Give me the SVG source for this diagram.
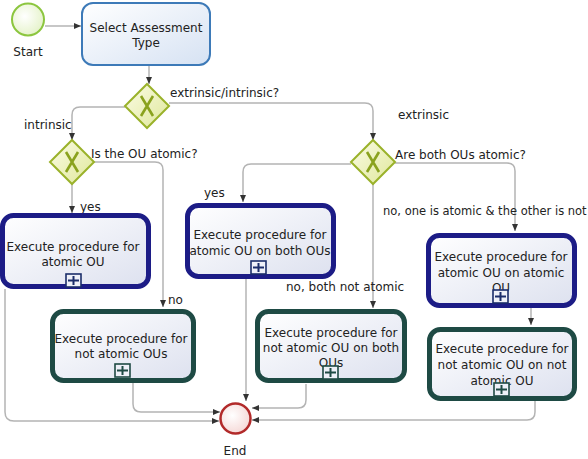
<svg xmlns="http://www.w3.org/2000/svg" width="588" height="459" viewBox="0 0 588 459">
<defs>
<linearGradient id="gTask" x1="0" y1="0" x2="1" y2="1"><stop offset="0" stop-color="#ffffff"/><stop offset="1" stop-color="#dde1ef"/></linearGradient>
<linearGradient id="gSel" x1="0" y1="0" x2="1" y2="1"><stop offset="0" stop-color="#ffffff"/><stop offset="1" stop-color="#d6e2f3"/></linearGradient>
<linearGradient id="gGw" x1="0" y1="0" x2="1" y2="1"><stop offset="0" stop-color="#fbfce6"/><stop offset="1" stop-color="#dfe79a"/></linearGradient>
<radialGradient id="gStart" cx="0.4" cy="0.4" r="0.7"><stop offset="0" stop-color="#ffffff"/><stop offset="1" stop-color="#e2f1c4"/></radialGradient>
<radialGradient id="gEnd" cx="0.4" cy="0.4" r="0.7"><stop offset="0" stop-color="#ffffff"/><stop offset="1" stop-color="#f4d4d2"/></radialGradient>
<marker id="arr" markerUnits="userSpaceOnUse" markerWidth="8" markerHeight="8" viewBox="0 0 8 8" refX="7" refY="4" orient="auto"><path d="M0,1 L7,4 L0,7 Z" fill="#333"/></marker>
<g id="plus"><rect x="0" y="0" width="15" height="13" fill="#eef0f8" stroke="#1b2d6a" stroke-width="1.6"/><path d="M7.5,2 V11 M2,6.5 H13" stroke="#1b2d6a" stroke-width="2"/></g>
<g id="plusT"><rect x="0" y="0" width="15" height="13" fill="#eef0f8" stroke="#1e4a44" stroke-width="1.6"/><path d="M7.5,2 V11 M2,6.5 H13" stroke="#1e4a44" stroke-width="2"/></g>
</defs>
<style>
text{font-family:"DejaVu Sans","Liberation Sans",sans-serif;font-size:12px;fill:#222}
.c{text-anchor:middle}
.sm{font-size:11.5px}
.con{fill:none;stroke:#b4b4b4;stroke-width:1.5}
.blue{fill:url(#gTask);stroke:#1c1c86;stroke-width:5}
.teal{fill:url(#gTask);stroke:#1e4a44;stroke-width:5}
.gw{fill:url(#gGw);stroke:#9ab22a;stroke-width:2}
.gx{stroke:#8aa21e;stroke-width:2.6;fill:none}
</style>

<g id="connectors">
<path class="con" marker-end="url(#arr)" d="M45,26 H81"/>
<path class="con" marker-end="url(#arr)" d="M149,65 V84"/>
<path class="con" marker-end="url(#arr)" d="M169,103 H365 Q373,103 373,111 V140"/>
<path class="con" marker-end="url(#arr)" d="M125,107 H80 Q72,107 72,115 V140"/>
<path class="con" marker-end="url(#arr)" d="M72,184 V213"/>
<path class="con" marker-end="url(#arr)" d="M94,162 H155 Q163,162 163,170 V307"/>
<path class="con" marker-end="url(#arr)" d="M351,164 H251 Q243,164 243,172 V202"/>
<path class="con" marker-end="url(#arr)" d="M373,184 V308"/>
<path class="con" marker-end="url(#arr)" d="M395,163 H507 Q515,163 515,171 V231"/>
<path class="con" marker-end="url(#arr)" d="M531,306 V325"/>
<path class="con" marker-end="url(#arr)" d="M5,289 V412 Q5,421 14,421 H219"/>
<path class="con" marker-end="url(#arr)" d="M133,382 V404 Q133,412 141,412 H220"/>
<path class="con" marker-end="url(#arr)" d="M246,279 V401"/>
<path class="con" marker-end="url(#arr)" d="M306,384 V400 Q306,408 298,408 H252"/>
<path class="con" marker-end="url(#arr)" d="M535,401 V412 Q535,420 527,420 H252"/>
</g>

<g id="start">
<circle cx="28" cy="19.5" r="16" fill="url(#gStart)" stroke="#8cc63f" stroke-width="2"/>
<text class="c" x="28" y="56">Start</text>
</g>

<g id="selectType">
<rect x="82" y="3" width="128" height="62" rx="11" fill="url(#gSel)" stroke="#3d7ab8" stroke-width="2"/>
<text class="c" x="146" y="32">Select Assessment</text>
<text class="c" x="146" y="47">Type</text>
</g>

<g id="gw1">
<path class="gw" d="M147,84 L169,106 L147,128 L125,106 Z"/>
<path class="gx" d="M141,96 L153,116 M153,96 L141,116"/>
<text x="170" y="97">extrinsic/intrinsic?</text>
</g>

<g id="gw3">
<path class="gw" d="M72,140 L94,162 L72,184 L50,162 Z"/>
<path class="gx" d="M66,152 L78,172 M78,152 L66,172"/>
<text x="91" y="158">Is the OU atomic?</text>
</g>

<g id="gw2">
<path class="gw" d="M373,140 L395,162 L373,184 L351,162 Z"/>
<path class="gx" d="M367,152 L379,172 M379,152 L367,172"/>
<text x="395" y="159">Are both OUs atomic?</text>
</g>

<g id="labels">
<text x="24" y="129">intrinsic</text>
<text x="398" y="119">extrinsic</text>
<text x="80" y="211">yes</text>
<text x="204" y="197">yes</text>
<text x="168" y="304">no</text>
<text x="286" y="291">no, both not atomic</text>
<text class="sm" x="383" y="215">no, one is atomic &amp; the other is not</text>
</g>

<g id="task1">
<rect class="blue" x="2.5" y="215.5" width="146" height="71" rx="11"/>
<text class="c" x="73" y="251">Execute procedure for</text>
<text class="c" x="73" y="266">atomic OU</text>
<use href="#plus" x="66" y="274"/>
</g>

<g id="task2">
<rect class="teal" x="52.5" y="311.5" width="141" height="69" rx="11"/>
<text class="c" x="121" y="343">Execute procedure for</text>
<text class="c" x="121" y="358">not atomic OUs</text>
<use href="#plusT" x="115" y="364"/>
</g>

<g id="task3">
<rect class="blue" x="187.5" y="205.5" width="146" height="71" rx="11"/>
<text class="c" x="260" y="239">Execute procedure for</text>
<text class="c" x="260" y="255">atomic OU on both OUs</text>
<use href="#plus" x="251" y="261"/>
</g>

<g id="task4">
<rect class="teal" x="257.5" y="311.5" width="147" height="69" rx="11"/>
<text class="c" x="331" y="337">Execute procedure for</text>
<text class="c" x="331" y="352">not atomic OU on both</text>
<text class="c" x="331" y="367">OUs</text>
<use href="#plusT" x="323" y="366"/>
</g>

<g id="task5">
<rect class="blue" x="428.5" y="235.5" width="146" height="70" rx="11"/>
<text class="c" x="501" y="261">Execute procedure for</text>
<text class="c" x="501" y="277">atomic OU on atomic</text>
<text class="c" x="501" y="292">OU</text>
<use href="#plus" x="493" y="290"/>
</g>

<g id="task6">
<rect class="teal" x="429.5" y="329.5" width="145" height="69" rx="11"/>
<text class="c" x="502" y="353">Execute procedure for</text>
<text class="c" x="502" y="369">not atomic OU on not</text>
<text class="c" x="502" y="385">atomic OU</text>
<use href="#plusT" x="494" y="383"/>
</g>

<g id="end">
<circle cx="235.5" cy="418.5" r="15" fill="url(#gEnd)" stroke="#b22a2a" stroke-width="2.5"/>
<text class="c" x="235" y="455">End</text>
</g>
</svg>
